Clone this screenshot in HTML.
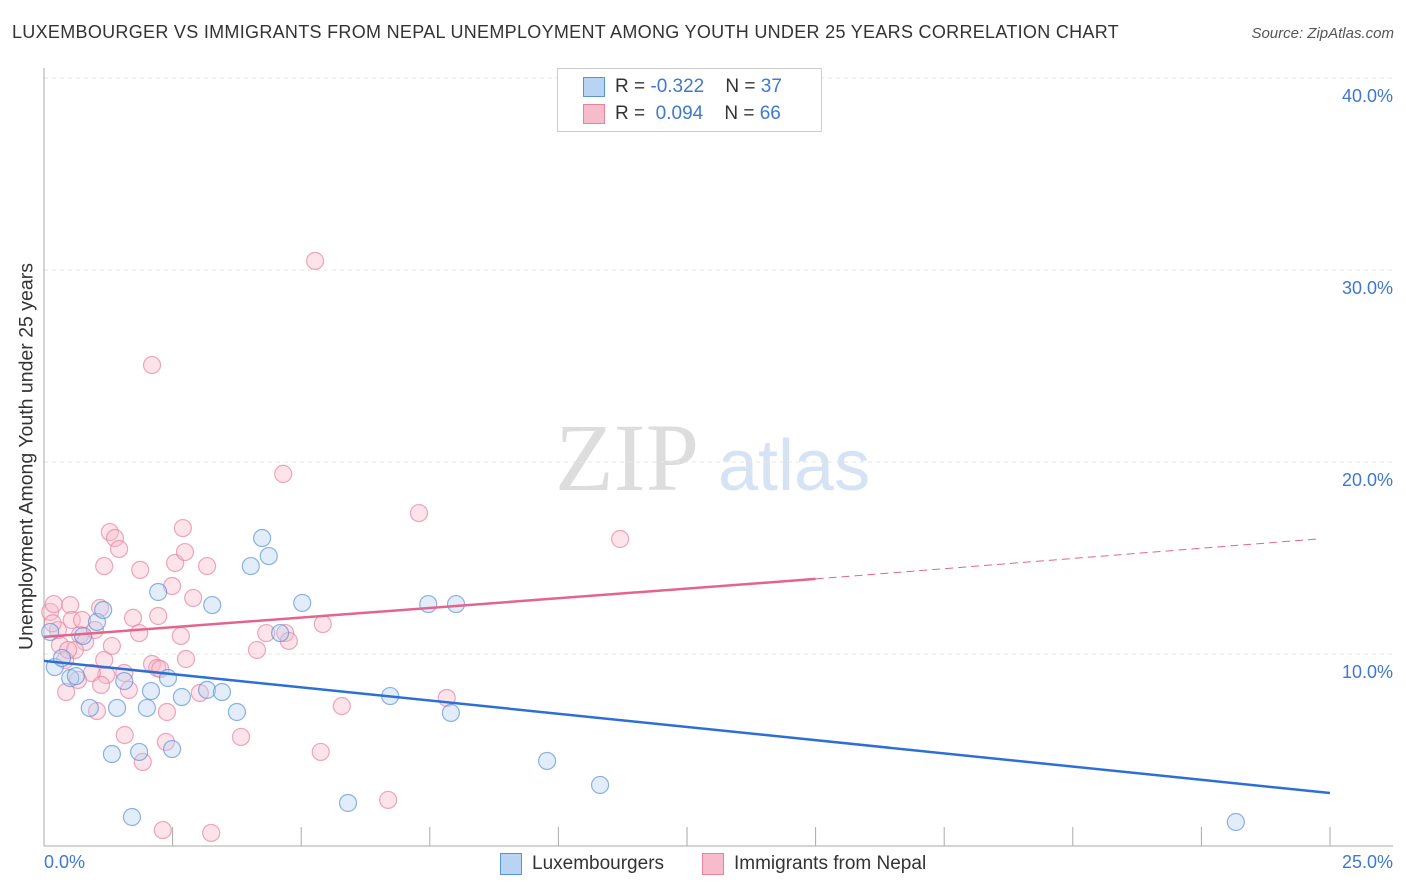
<!DOCTYPE html>
<html><head><meta charset="utf-8"><style>
body{margin:0;background:#fff;font-family:"Liberation Sans",sans-serif}
#wrap{position:relative;width:1406px;height:892px;overflow:hidden}
.t{position:absolute;white-space:nowrap}
</style></head><body>
<div id="wrap">
<div class="t" style="left:12px;top:22px;font-size:18px;letter-spacing:0.3px;color:#333">LUXEMBOURGER VS IMMIGRANTS FROM NEPAL UNEMPLOYMENT AMONG YOUTH UNDER 25 YEARS CORRELATION CHART</div>
<div class="t" style="right:12px;top:25px;font-size:15px;color:#555;font-style:italic">Source: ZipAtlas.com</div>
<svg id="svg" width="1406" height="892" style="position:absolute;left:0;top:0"></svg>
</div>
<script>
const xTicks=[0,2.5,5,7.5,10,12.5,15,17.5,20,22.5,25];
const yTicks=[10,20,30,40];
const yTickLabels=["10.0%","20.0%","30.0%","40.0%"];
const blueX=[0.12,0.21,0.51,0.62,0.35,0.76,1.03,1.15,0.89,1.42,1.32,1.85,1.71,2.08,2.00,1.56,2.22,2.41,2.49,2.68,3.17,3.27,3.46,3.75,4.02,4.24,4.37,4.59,5.02,5.91,6.73,7.47,8.01,7.91,9.78,10.81,23.17];
const blueY=[11.15,9.32,8.75,8.85,9.79,10.94,11.67,12.29,7.19,7.19,4.79,4.90,1.51,8.07,7.19,8.59,13.23,8.75,5.05,7.76,8.13,12.55,8.02,6.98,14.58,16.04,15.10,11.09,12.66,2.24,7.81,12.60,12.60,6.93,4.43,3.18,1.25];
const pinkX=[0.12,0.19,0.31,0.51,0.41,0.27,0.54,0.70,0.80,0.60,0.74,1.09,0.99,1.17,1.21,0.93,1.28,1.38,1.46,1.17,1.32,1.56,1.65,1.73,1.85,1.87,1.92,2.10,2.20,2.22,2.26,2.39,2.37,2.31,2.49,2.55,2.70,2.74,2.66,2.90,3.03,3.17,3.25,3.83,4.14,4.32,4.65,4.69,4.76,5.27,2.10,7.29,5.38,5.42,5.79,6.69,7.83,11.20,0.17,1.03,1.57,2.76,1.11,0.47,0.66,0.43];
const pinkY=[12.19,12.60,10.47,12.55,9.69,11.25,11.77,10.99,10.63,10.21,11.77,12.40,11.25,9.69,8.91,9.01,16.35,16.04,15.47,14.58,10.42,9.01,8.13,11.88,11.09,14.38,4.38,9.48,9.27,11.98,9.22,6.98,5.42,0.83,13.54,14.74,16.56,15.31,10.94,12.92,7.97,14.58,0.68,5.68,10.21,11.09,19.38,11.09,10.68,30.47,25.05,17.34,4.90,11.56,7.29,2.40,7.71,15.99,11.6,7.03,5.78,9.74,8.39,10.21,8.65,8.02];
const blueTrend=[[0,9.64],[25,2.76]];
const pinkTrend=[[0,10.89],[15,13.91]];
const pinkDash=[[15,13.91],[24.8,16.0]];

const X=v=>44+v/25*1286, Y=v=>846-v*19.2;
const svg=document.getElementById('svg');const NS='http://www.w3.org/2000/svg';
function mk(tag,a){const e=document.createElementNS(NS,tag);for(const k in a)e.setAttribute(k,a[k]);svg.appendChild(e);return e;}
let w=mk('text',{x:555,y:490,'font-size':96,fill:'#ddd','font-family':'Liberation Serif,serif'});w.textContent='ZIP';


w=mk('text',{x:718,y:490,'font-size':72,fill:'#d5e3f5','font-family':'Liberation Sans,sans-serif'});w.textContent='atlas';


yTicks.forEach((v,i)=>{
 let g=mk('line',{x1:44,x2:1393,y1:Y(v),y2:Y(v),stroke:'#e6e6e6','stroke-dasharray':'4,4'});
 
 
 let t=mk('text',{x:1393,y:Y(v)+24,'text-anchor':'end','font-size':18,fill:'#3f78d0','font-family':'Liberation Sans,sans-serif'});t.textContent=yTickLabels[i];
 
 
});
let ax=mk('line',{x1:44,x2:44,y1:68,y2:846,stroke:'#aaa'});


ax=mk('line',{x1:44,x2:1393,y1:846,y2:846,stroke:'#aaa'});


xTicks.forEach(v=>{if(v===0)return;let t=mk('line',{x1:X(v),x2:X(v),y1:827,y2:846,stroke:'#aaa'});
 
 });
function pts(xs,ys,fill,stroke,name){xs.forEach((x,i)=>{let c=mk('circle',{cx:X(x),cy:Y(ys[i]),r:8.5,fill:fill,'fill-opacity':0.4,stroke:stroke,'stroke-opacity':0.7,'stroke-width':1.2});
 
 });}
pts(pinkX,pinkY,'#f7bccb','#e8829f','point-nepal');
pts(blueX,blueY,'#b9d3f2','#5b93d9','point-luxembourger');
let l=mk('line',{x1:X(blueTrend[0][0]),y1:Y(blueTrend[0][1]),x2:X(blueTrend[1][0]),y2:Y(blueTrend[1][1]),stroke:'#2e6fd6','stroke-width':2.5});


l=mk('line',{x1:X(pinkTrend[0][0]),y1:Y(pinkTrend[0][1]),x2:X(pinkTrend[1][0]),y2:Y(pinkTrend[1][1]),stroke:'#e5648e','stroke-width':2.5});


l=mk('line',{x1:X(pinkDash[0][0]),y1:Y(pinkDash[0][1]),x2:X(pinkDash[1][0]),y2:Y(pinkDash[1][1]),stroke:'#e5648e','stroke-width':1,'stroke-dasharray':'8,5'});


</script>
<div class="t" style="left:44px;top:852px;font-size:18px;color:#3f78d0">0.0%</div>
<div class="t" style="right:13px;top:852px;font-size:18px;color:#3f78d0">25.0%</div>
<div class="t" style="left:-173px;top:445px;transform:rotate(-90deg);font-size:19.5px;color:#333;width:400px;text-align:center">Unemployment Among Youth under 25 years</div>
<div style="position:absolute;left:557px;top:68px;width:263px;height:62px;border:1px solid #ccc;background:#fff;font-size:19px;color:#333">
 <div style="position:absolute;left:25px;top:8px;width:20px;height:18px;background:#b9d3f2;border:1px solid #5b93d9"></div>
 <div class="t" style="left:57px;top:7px">R = <span style="color:#3f78d0">-0.322</span>&nbsp;&nbsp;&nbsp; N = <span style="color:#3f78d0">37</span></div>
 <div style="position:absolute;left:25px;top:35px;width:20px;height:18px;background:#f7bccb;border:1px solid #e8829f"></div>
 <div class="t" style="left:57px;top:34px">R = &nbsp;<span style="color:#3f78d0">0.094</span>&nbsp;&nbsp;&nbsp; N = <span style="color:#3f78d0">66</span></div>
</div>
<div style="position:absolute;left:500px;top:853px;width:20px;height:20px;background:#b9d3f2;border:1px solid #5b93d9"></div>
<div class="t" style="left:532px;top:853px;font-size:19px;color:#333">Luxembourgers</div>
<div style="position:absolute;left:702px;top:853px;width:20px;height:20px;background:#f7bccb;border:1px solid #e8829f"></div>
<div class="t" style="left:734px;top:853px;font-size:19px;color:#333">Immigrants from Nepal</div>
</body></html>
